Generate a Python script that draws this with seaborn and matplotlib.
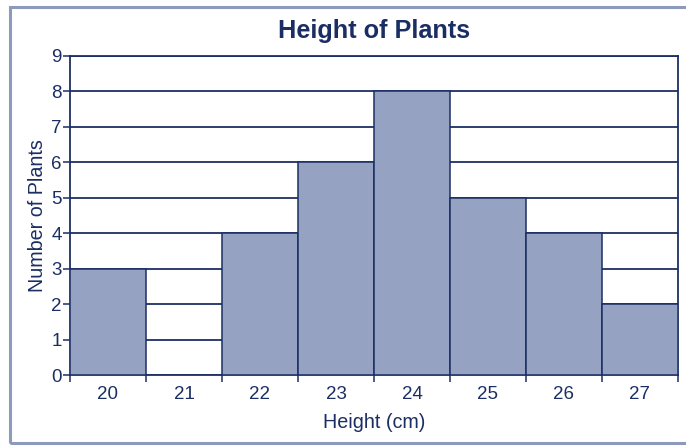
import matplotlib
matplotlib.use("Agg")
import matplotlib.pyplot as plt
import matplotlib.patches as mpatches
import seaborn as sns
import pandas as pd
import numpy as np

heights = ["20", "21", "22", "23", "24", "25", "26", "27"]
counts = [3, 0, 4, 6, 8, 5, 4, 2]
y_ticks = [0, 1, 2, 3, 4, 5, 6, 7, 8, 9]

NAVY = "#1b2e64"
BAR = "#95a2c1"

sns.set_theme(style="white")
plt.rcParams["font.family"] = ["Liberation Sans", "DejaVu Sans"]

fig = plt.figure(figsize=(6.86, 4.46), dpi=100)
ax = fig.add_axes([70/686, (446-375)/446, (678-70)/686, (375-56)/446])

df = pd.DataFrame({"Height": heights, "Count": counts})
sns.barplot(data=df, x="Height", y="Count", color=BAR, width=1.0,
            edgecolor=NAVY, linewidth=1.1, saturation=1, ax=ax, zorder=3)

ax.set_xlim(-0.5, len(heights) - 0.5)
ax.set_ylim(0, 9)
ax.set_yticks(y_ticks)
for v in y_ticks[1:]:
    ax.axhline(v, color=NAVY, lw=1.3, zorder=1)

ax.set_xticks(range(len(heights)))
ax.set_xticklabels(heights)
ax.set_xticks(np.arange(-0.5, len(heights), 1.0), minor=True)
ax.tick_params(axis="x", which="major", length=0, pad=8, labelsize=13.5, colors=NAVY)
ax.tick_params(axis="x", which="minor", length=5, width=1.1, color=NAVY, direction="out", bottom=True)
ax.tick_params(axis="y", length=5, width=1.1, color=NAVY, labelsize=13.5, labelcolor=NAVY, pad=1, left=True)
for lbl in ax.get_yticklabels():
    lbl.set_color(NAVY)

for side in ["left", "bottom", "right", "top"]:
    ax.spines[side].set_visible(True)
    ax.spines[side].set_color(NAVY)
    ax.spines[side].set_linewidth(1.3)

ax.set_xlabel("Height (cm)", fontsize=14.2, color=NAVY, labelpad=7)
ax.set_ylabel("Number of Plants", fontsize=14.2, color=NAVY, labelpad=3)
fig.text(374/686, 1 - 31/446, "Height of Plants", ha="center", va="center",
         fontsize=18.2, fontweight="bold", color=NAVY)

border = mpatches.Rectangle((10/686, 3/446), 690/686, (443-7)/446, transform=fig.transFigure,
                            fill=False, edgecolor="#8e9abb", linewidth=2.2, zorder=0)
fig.patches.append(border)

fig.savefig("out.png", dpi=100)
